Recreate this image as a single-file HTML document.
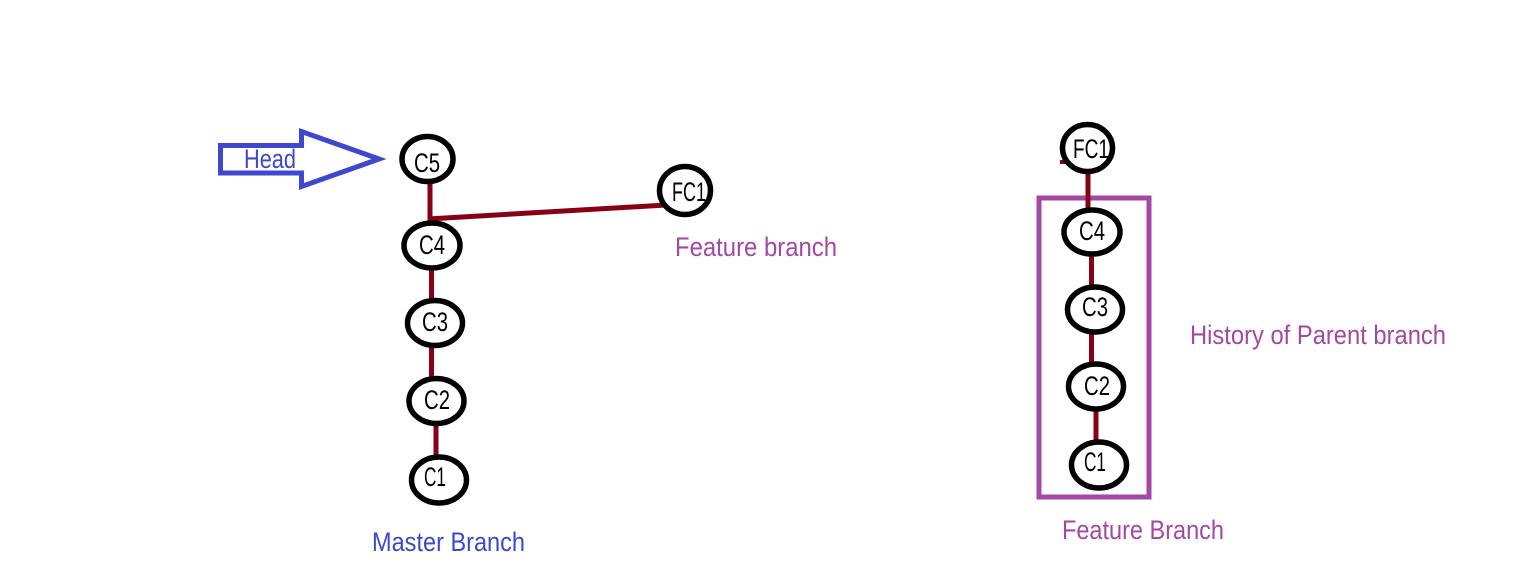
<!DOCTYPE html>
<html lang="en">
<head>
<meta charset="utf-8">
<title>Git branch diagram</title>
<style>
html,body{margin:0;padding:0;background:#fff;}
svg{display:block;}
text{font-family:"Liberation Sans",sans-serif;font-size:27px;}
.node{fill:#fff;stroke:#000;stroke-width:5.5;}
.edge{stroke:#880015;stroke-width:5;fill:none;}
.lbl{fill:#000;}
.blue{fill:#3f48cc;}
.purple{fill:#a349a4;}
</style>
</head>
<body>
<svg width="1537" height="577" viewBox="0 0 1537 577" xmlns="http://www.w3.org/2000/svg">
  <rect x="0" y="0" width="1537" height="577" fill="#fff"/>

  <g>
    <line class="edge" x1="430" y1="184" x2="430" y2="221"/>
    <line class="edge" x1="428" y1="219" x2="666" y2="205"/>
    <line class="edge" x1="431.5" y1="269" x2="431.5" y2="301"/>
    <line class="edge" x1="431.5" y1="345" x2="431.5" y2="379"/>
    <line class="edge" x1="436" y1="423" x2="436" y2="458"/>

    <ellipse class="node" cx="427.5" cy="159" rx="25.5" ry="22.5"/>
    <ellipse class="node" cx="432" cy="245.5" rx="28" ry="22.5"/>
    <ellipse class="node" cx="435" cy="323" rx="27.5" ry="22.5"/>
    <ellipse class="node" cx="436.5" cy="401" rx="27.5" ry="22.5"/>
    <ellipse class="node" cx="439" cy="480" rx="27.5" ry="23"/>
    <ellipse class="node" cx="685" cy="190.5" rx="25.5" ry="24"/>

    <text class="lbl" x="414" y="172" textLength="26" lengthAdjust="spacingAndGlyphs">C5</text>
    <text class="lbl" x="419" y="254" textLength="26" lengthAdjust="spacingAndGlyphs">C4</text>
    <text class="lbl" x="422" y="331" textLength="26" lengthAdjust="spacingAndGlyphs">C3</text>
    <text class="lbl" x="424" y="409" textLength="26" lengthAdjust="spacingAndGlyphs">C2</text>
    <text class="lbl" x="424" y="486" textLength="22" lengthAdjust="spacingAndGlyphs">C1</text>
    <text class="lbl" x="672" y="201" textLength="34" lengthAdjust="spacingAndGlyphs">FC1</text>
  </g>

  <g>
    <polygon points="220.5,145.5 301.5,145.5 301.5,131.5 379,159 301.5,186.5 301.5,173 220.5,173" fill="none" stroke="#3f48cc" stroke-width="5"/>
    <text class="blue" x="244" y="168" textLength="52" lengthAdjust="spacingAndGlyphs">Head</text>
  </g>

  <text class="purple" x="675" y="256" textLength="162" lengthAdjust="spacingAndGlyphs">Feature branch</text>
  <text class="blue" x="372" y="551" textLength="153" lengthAdjust="spacingAndGlyphs">Master Branch</text>

  <g>
    <rect x="1039" y="198" width="110" height="299" fill="none" stroke="#a349a4" stroke-width="5"/>
    <line x1="1060" y1="162" x2="1068" y2="162" stroke="#880015" stroke-width="4"/>
    <line class="edge" x1="1088" y1="170" x2="1088" y2="209"/>
    <line class="edge" x1="1091.5" y1="254" x2="1091.5" y2="288"/>
    <line class="edge" x1="1091.5" y1="332" x2="1091.5" y2="365"/>
    <line class="edge" x1="1096" y1="409" x2="1096" y2="444"/>

    <ellipse class="node" cx="1087.5" cy="148" rx="25" ry="23.5"/>
    <ellipse class="node" cx="1092" cy="232" rx="28" ry="22"/>
    <ellipse class="node" cx="1095" cy="309.5" rx="27.5" ry="22.5"/>
    <ellipse class="node" cx="1096" cy="386.5" rx="27.5" ry="22.5"/>
    <ellipse class="node" cx="1099" cy="465" rx="27.5" ry="23"/>

    <text class="lbl" x="1073" y="158" textLength="36" lengthAdjust="spacingAndGlyphs">FC1</text>
    <text class="lbl" x="1079" y="240" textLength="26" lengthAdjust="spacingAndGlyphs">C4</text>
    <text class="lbl" x="1082" y="316" textLength="26" lengthAdjust="spacingAndGlyphs">C3</text>
    <text class="lbl" x="1084" y="395" textLength="26" lengthAdjust="spacingAndGlyphs">C2</text>
    <text class="lbl" x="1084" y="471" textLength="22" lengthAdjust="spacingAndGlyphs">C1</text>
  </g>

  <text class="purple" x="1190" y="344" textLength="256" lengthAdjust="spacingAndGlyphs">History of Parent branch</text>
  <text class="purple" x="1062" y="539" textLength="162" lengthAdjust="spacingAndGlyphs">Feature Branch</text>
</svg>
</body>
</html>
